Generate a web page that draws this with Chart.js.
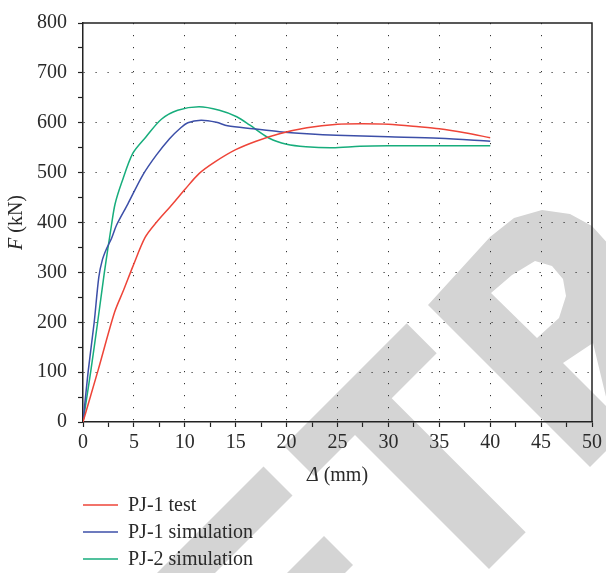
<!DOCTYPE html>
<html>
<head>
<meta charset="utf-8">
<script src="https://cdn.jsdelivr.net/npm/chart.js@4/dist/chart.umd.min.js"></script>
<style>
html,body{margin:0;padding:0;background:#fff;}
#wrap{width:606px;height:573px;position:relative;}
</style>
</head>
<body>
<div id="wrap"><canvas id="c" width="606" height="573"></canvas></div>
<script>
// load-displacement curves (mm, kN)
const pj1TestX=[0,1.5,3.1,4.0,4.9,6.1,7.2,8.8,10,11.4,13,15,17,19.3,22,25,27.5,30,33,35,37.5,40];
const pj1TestY=[0,105,220,265,312,370,400,437,466,498,522,546,563,578,590,597,598,597,592,588,580,570];
const pj1SimX=[0,0.5,1.1,1.55,1.9,2.3,2.8,3.3,4.4,5.9,7.2,8.5,9.5,10.3,11.6,13.1,14.2,16.7,19.3,22,24.9,30,35,40];
const pj1SimY=[0,100,200,290,325,347,368,395,437,496,535,568,588,600,605,601,594,588,582,578,575,572,569,563];
const pj2SimX=[0,0.75,1.44,2.1,2.8,3.15,3.8,4.9,6.2,7.7,9.3,11.4,13.4,15.1,16.4,18.3,20,21.9,24.5,27.2,30,35,40];
const pj2SimY=[0,100,200,300,395,437,480,539,572,607,625,632,625,612,595,569,557,552,550,553,554,554,554];
const seriesNames=["PJ-1 test","PJ-1 simulation","PJ-2 simulation"];
const seriesColors=["#ee4438","#3c4fa8","#17ad7c"];
const xMax=50, yMax=800;

const SERIF='"Liberation Serif","Times New Roman",serif';
const pts=(xs,ys)=>xs.map((x,i)=>({x:x,y:ys[i]}));

// grey watermark behind the figure
const watermark={
  id:"watermark",
  beforeDraw(chart){
    const ctx=chart.ctx;
    ctx.save();
    ctx.fillStyle="#d4d4d4";
    const poly=(p)=>{ctx.moveTo(p[0][0],p[0][1]);for(let i=1;i<p.length;i++)ctx.lineTo(p[i][0],p[i][1]);ctx.closePath();};
    ctx.beginPath();
    poly([[406.7,323.3],[436.7,353.3],[391.7,398.3],[525.7,532.3],[489,569],[355,435],[314,476],[284,446]]);
    poly([[263.5,466.5],[292.5,495.5],[94,694],[65,665]]);
    poly([[324,536],[353,565],[150,768],[121,739]]);
    ctx.fill();
    ctx.beginPath();
    poly([[428,305],[490,237],[514,218],[542,210],[570,214],[592,226],[612,248],[640,270],[640,417],[590,467]]);
    poly([[491,293],[512,275],[535,261],[552,266],[563,279],[566,296],[559,318],[537,338]]);
    poly([[563,363],[593,343],[609,409]]);
    ctx.fill("evenodd");
    ctx.restore();
  }
};

// box, axis titles and legend
const decor={
  id:"decor",
  afterDraw(chart){
    const ctx=chart.ctx, a=chart.chartArea;
    ctx.save();
    ctx.strokeStyle="#222";
    ctx.lineWidth=1.5;
    ctx.beginPath();
    ctx.moveTo(a.left,a.top);ctx.lineTo(a.right,a.top);ctx.lineTo(a.right,a.bottom);
    ctx.stroke();

    ctx.fillStyle="#2a2a2a";
    ctx.textBaseline="middle";
    const it="italic 20px "+SERIF, rm="20px "+SERIF;
    // x title
    ctx.font=it;const w1=ctx.measureText("Δ").width;
    ctx.font=rm;const w2=ctx.measureText(" (mm)").width;
    let x0=(a.left+a.right)/2-(w1+w2)/2;
    ctx.textAlign="left";
    ctx.font=it;ctx.fillText("Δ",x0,476);
    ctx.font=rm;ctx.fillText(" (mm)",x0+w1,476);
    // y title
    ctx.save();
    ctx.translate(17,(a.top+a.bottom)/2);
    ctx.rotate(-Math.PI/2);
    ctx.font=it;const v1=ctx.measureText("F").width;
    ctx.font=rm;const v2=ctx.measureText(" (kN)").width;
    ctx.font=it;ctx.fillText("F",-(v1+v2)/2,0);
    ctx.font=rm;ctx.fillText(" (kN)",-(v1+v2)/2+v1,0);
    ctx.restore();

    // legend, one row per series
    chart.data.datasets.forEach((ds,i)=>{
      const y=505+i*27;
      ctx.strokeStyle=ds.borderColor;
      ctx.lineWidth=1.5;
      ctx.beginPath();ctx.moveTo(83,y);ctx.lineTo(118,y);ctx.stroke();
      ctx.fillStyle="#2a2a2a";
      ctx.font=rm;
      ctx.fillText(ds.label,128,y+1);
    });
    ctx.restore();
  }
};

const mk=(i,xs,ys)=>({
  label:seriesNames[i],
  data:pts(xs,ys),
  borderColor:seriesColors[i],
  backgroundColor:seriesColors[i],
  borderWidth:1.5,
  pointRadius:0,
  fill:false,
  tension:0.3
});

new Chart(document.getElementById("c"),{
  type:"line",
  data:{datasets:[
    mk(0,pj1TestX,pj1TestY),
    mk(1,pj1SimX,pj1SimY),
    mk(2,pj2SimX,pj2SimY)
  ]},
  options:{
    responsive:false,
    animation:false,
    layout:{padding:{top:16,right:13,left:0,bottom:0}},
    plugins:{legend:{display:false},tooltip:{enabled:false}},
    scales:{
      x:{
        type:"linear",min:0,max:xMax,
        afterFit:s=>{s.height=151;},
        ticks:{stepSize:2.5,autoSkip:false,maxRotation:0,padding:4,color:"#2a2a2a",
          font:{family:SERIF,size:20},
          callback:v=>v%5===0?String(v):""},
        grid:{
          color:c=>(c.tick&&c.tick.value%5===0&&c.tick.value>0&&c.tick.value<xMax)?"#333":"rgba(0,0,0,0)",
          lineWidth:1,tickLength:5,tickColor:"#222",tickWidth:1.2
        },
        border:{color:"#222",width:1.5,dash:[1.2,10.8]}
      },
      y:{
        type:"linear",min:0,max:yMax,
        afterFit:s=>{s.width=83;},
        ticks:{stepSize:50,autoSkip:false,padding:11,color:"#2a2a2a",
          font:{family:SERIF,size:20},
          callback:v=>v%100===0?String(v):""},
        grid:{
          color:c=>(c.tick&&c.tick.value%100===0&&c.tick.value>0&&c.tick.value<yMax)?"#333":"rgba(0,0,0,0)",
          lineWidth:1,tickLength:5,tickColor:"#222",tickWidth:1.2
        },
        border:{color:"#222",width:1.5,dash:[1.2,10.8]}
      }
    }
  },
  plugins:[watermark,decor]
});
</script>
</body>
</html>
